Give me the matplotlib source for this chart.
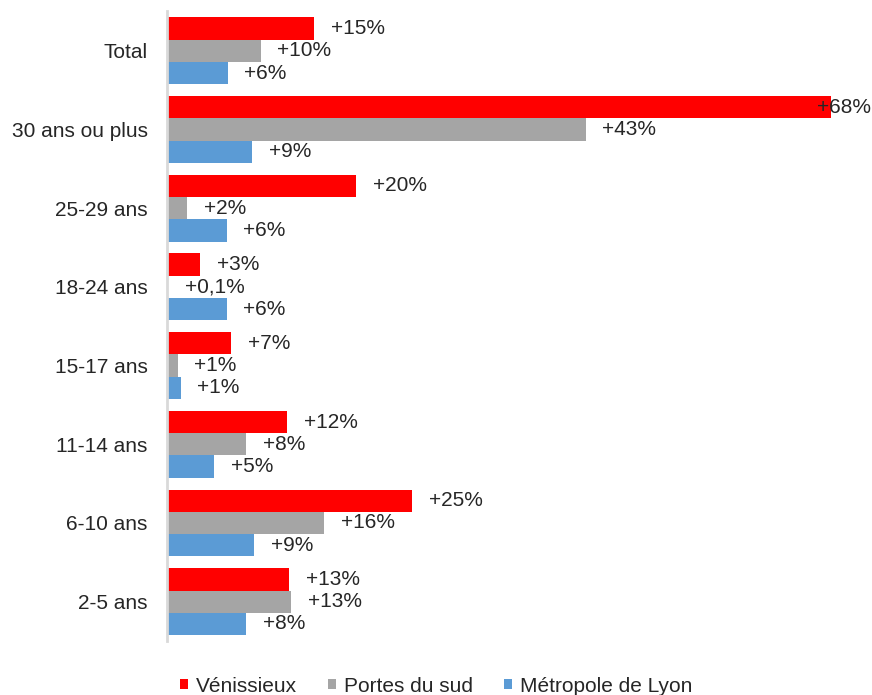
import matplotlib
matplotlib.use('Agg')
import matplotlib.pyplot as plt
import numpy as np

plt.rcParams['font.family'] = ['Liberation Sans', 'DejaVu Sans']

# categories, top to bottom
categories = ['Total', '30 ans ou plus', '25-29 ans', '18-24 ans',
              '15-17 ans', '11-14 ans', '6-10 ans', '2-5 ans']

series_names = ['Vénissieux', 'Portes du sud', 'Métropole de Lyon']
colors = ['#ff0000', '#a5a5a5', '#5b9bd5']

# values (%)
venissieux = [15.1, 68.0, 19.4, 3.4, 6.6, 12.3, 25.1, 12.5]
portes_du_sud = [9.6, 42.9, 2.1, 0.1, 1.1, 8.1, 16.1, 12.7]
metropole = [6.2, 8.7, 6.1, 6.1, 1.4, 4.8, 8.9, 8.1]

# data labels as printed on the chart
venissieux_labels = ['+15%', '+68%', '+20%', '+3%', '+7%', '+12%', '+25%', '+13%']
portes_labels = ['+10%', '+43%', '+2%', '+0,1%', '+1%', '+8%', '+16%', '+13%']
metropole_labels = ['+6%', '+9%', '+6%', '+6%', '+1%', '+5%', '+9%', '+8%']

fig = plt.figure(figsize=(8.72, 6.95), dpi=100)
ax = fig.add_axes([0.1915, 0.0777, 0.975 - 0.1915, 0.9835 - 0.0777])

y = np.arange(len(categories))
h = 0.283
all_values = [venissieux, portes_du_sud, metropole]
all_labels = [venissieux_labels, portes_labels, metropole_labels]
xmax = 70

for k, (vals, labs) in enumerate(zip(all_values, all_labels)):
    pos = y + (k - 1) * h
    ax.barh(pos, vals, height=h, color=colors[k], label=series_names[k])
    for v, p, lab in zip(vals, pos, labs):
        if v > 60:
            # label does not fit past the bar end, pull it back over the bar
            ax.annotate(lab, (v, p), xytext=(-10, 0), textcoords='offset points',
                        ha='left', va='center', fontsize=15, color='#262626')
        else:
            ax.annotate(lab, (v, p), xytext=(12, 0), textcoords='offset points',
                        ha='left', va='center', fontsize=15, color='#262626')

ax.set_xlim(0, xmax)
ax.set_ylim(len(categories) - 0.5, -0.5)
ax.set_yticks(y)
ax.set_yticklabels(categories, fontsize=15, color='#262626')
ax.tick_params(axis='y', length=0, pad=14)
ax.set_xticks([])

for side in ['top', 'right', 'bottom']:
    ax.spines[side].set_visible(False)
ax.spines['left'].set_color('#d9d9d9')
ax.spines['left'].set_linewidth(2)

fig.legend(loc='center', bbox_to_anchor=(0.5, 1 - 686 / 695), ncol=3,
           frameon=False, fontsize=15, handlelength=0.4, handleheight=0.4,
           handletextpad=0.35, columnspacing=1.5, labelcolor='#262626')

fig.savefig('out.png', dpi=100)
